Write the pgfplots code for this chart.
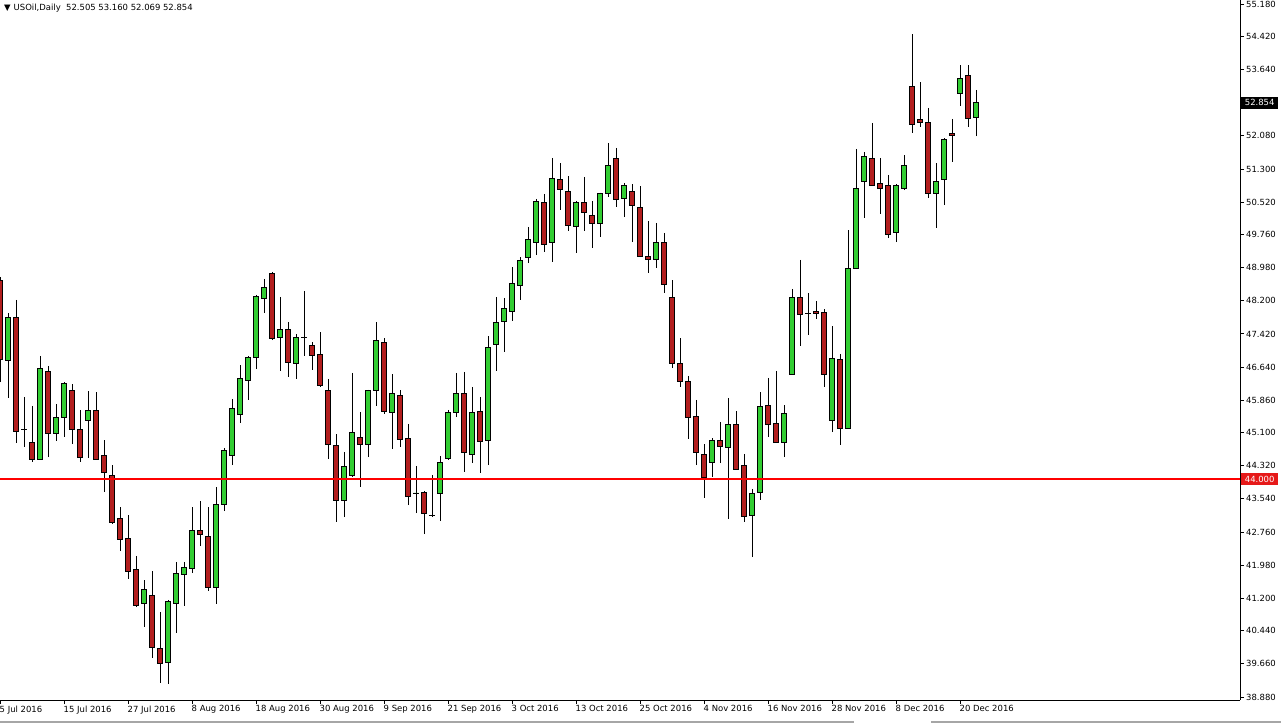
\documentclass[border=0pt]{standalone}
\usepackage{fontspec}
\setmainfont{DejaVu Sans}
\usepackage{pgfplots}
\pgfplotsset{compat=1.18}
\usepgfplotslibrary{statistics}
\definecolor{cgreen}{RGB}{50,205,50}
\definecolor{cred}{RGB}{178,30,30}
\definecolor{bred}{RGB}{230,25,25}
\newcommand{\candle}[5]{%
  \pgfmathsetmacro{\clo}{min(#2,#5)}%
  \pgfmathsetmacro{\chigh}{max(#2,#5)}%
  \pgfmathparse{(#5>=#2)?1:0}%
  \ifdim\pgfmathresult pt>0.5pt\def\ccol{cgreen}\else\def\ccol{cred}\fi
  \edef\candlecmd{\noexpand\addplot[candle, fill=\ccol, boxplot prepared={draw direction=y, draw position=#1, lower whisker=#4, lower quartile=\clo, median=\clo, upper quartile=\chigh, upper whisker=#3}] coordinates {};}%
  \candlecmd
}
\pgfplotsset{candle/.style={draw=black, line width=0.9bp, solid, mark=none}}
\begin{document}
\begin{tikzpicture}
\fill[white] (0,-24bp) rectangle (1281bp,700bp);
\path[use as bounding box] (0,-24bp) rectangle (1281bp,700bp);
\begin{axis}[
  at={(0,0)}, anchor=south west,
  width=1240bp, height=700bp, scale only axis,
  xmin=0, xmax=155, ymin=38.810, ymax=55.274,
  axis x line*=bottom, axis y line*=right,
  axis line style={black, line width=0.9bp, -},
  tick align=outside, major tick length=4bp,
  tick style={black, line width=0.9bp},
  xtick={0,8,...,120},
  xticklabels={5 Jul 2016, 15 Jul 2016, 27 Jul 2016, 8 Aug 2016, 18 Aug 2016, 30 Aug 2016, 9 Sep 2016, 21 Sep 2016, 3 Oct 2016, 13 Oct 2016, 25 Oct 2016, 4 Nov 2016, 16 Nov 2016, 28 Nov 2016, 8 Dec 2016, 20 Dec 2016},
  ytick={38.88,39.66,40.44,41.2,41.98,42.76,43.54,44.32,45.1,45.86,46.64,47.42,48.2,48.98,49.76,50.52,51.3,52.08,53.64,54.42,55.18},
  yticklabels={38.880,39.660,40.440,41.200,41.980,42.760,43.540,44.320,45.100,45.860,46.640,47.420,48.200,48.980,49.760,50.520,51.300,52.080,53.640,54.420,55.180},
  xticklabel style={anchor=north west, inner sep=0pt, xshift=-0.5bp, yshift=-1.5bp, font=\fontsize{8.5}{10}\selectfont},
  yticklabel style={anchor=west, inner sep=0pt, xshift=2bp, font=\fontsize{8.5}{10}\selectfont},
  clip mode=individual,
  boxplot/draw direction=y,
  boxplot/box extend=0.65, boxplot/whisker extend=0,
]
\candle{0}{48.688}{48.759}{46.289}{46.830}
\candle{1}{46.807}{47.912}{45.913}{47.818}
\candle{2}{47.818}{48.218}{44.855}{45.137}
\candle{3}{45.184}{45.937}{44.761}{45.180}
\candle{4}{44.878}{45.725}{44.408}{44.478}
\candle{5}{44.478}{46.901}{44.455}{46.619}
\candle{6}{46.548}{46.666}{44.525}{45.090}
\candle{7}{45.090}{45.772}{44.902}{45.466}
\candle{8}{45.466}{46.289}{44.996}{46.266}
\candle{9}{46.101}{46.242}{44.831}{45.184}
\candle{10}{45.184}{45.631}{44.408}{44.525}
\candle{11}{45.396}{46.077}{44.502}{45.631}
\candle{12}{45.631}{46.054}{44.470}{44.478}
\candle{13}{44.572}{44.925}{43.702}{44.173}
\candle{14}{44.102}{44.337}{42.950}{42.997}
\candle{15}{43.091}{43.349}{42.314}{42.597}
\candle{16}{42.620}{43.161}{41.656}{41.844}
\candle{17}{41.891}{42.197}{40.997}{41.044}
\candle{18}{41.091}{41.632}{40.527}{41.421}
\candle{19}{41.280}{41.844}{39.798}{40.057}
\candle{20}{40.034}{40.880}{39.210}{39.680}
\candle{21}{39.704}{41.162}{39.186}{41.138}
\candle{22}{41.091}{42.056}{40.386}{41.797}
\candle{23}{41.774}{42.056}{41.021}{41.938}
\candle{24}{41.915}{43.349}{41.797}{42.808}
\candle{25}{42.808}{43.490}{42.432}{42.714}
\candle{26}{42.667}{43.349}{41.374}{41.468}
\candle{27}{41.468}{43.820}{41.068}{43.420}
\candle{28}{43.420}{44.737}{43.255}{44.690}
\candle{29}{44.572}{45.890}{44.337}{45.678}
\candle{30}{45.537}{46.689}{45.325}{46.384}
\candle{31}{46.337}{46.901}{45.866}{46.878}
\candle{32}{46.878}{48.336}{46.595}{48.312}
\candle{33}{48.265}{48.712}{47.912}{48.524}
\candle{34}{48.853}{48.877}{47.277}{47.324}
\candle{35}{47.348}{48.289}{46.548}{47.536}
\candle{36}{47.536}{47.701}{46.407}{46.760}
\candle{37}{46.736}{47.418}{46.360}{47.348}
\candle{38}{47.348}{48.430}{46.901}{47.340}
\candle{39}{47.160}{47.230}{46.572}{46.925}
\candle{40}{46.948}{47.465}{46.172}{46.219}
\candle{41}{46.101}{46.360}{44.478}{44.831}
\candle{42}{44.808}{45.066}{42.997}{43.514}
\candle{43}{43.514}{44.643}{43.114}{44.314}
\candle{44}{44.102}{46.501}{44.055}{45.113}
\candle{45}{44.996}{45.584}{43.820}{44.831}
\candle{46}{44.831}{46.110}{44.525}{46.101}
\candle{47}{46.101}{47.701}{45.725}{47.277}
\candle{48}{47.230}{47.324}{45.537}{45.607}
\candle{49}{45.584}{46.477}{44.713}{46.030}
\candle{50}{45.984}{46.101}{44.761}{44.949}
\candle{51}{44.972}{45.302}{43.396}{43.608}
\candle{52}{43.679}{44.314}{43.208}{43.679}
\candle{53}{43.702}{43.726}{42.714}{43.208}
\candle{54}{43.161}{44.102}{43.114}{43.161}
\candle{55}{43.679}{44.549}{43.020}{44.408}
\candle{56}{44.502}{45.631}{44.455}{45.584}
\candle{57}{45.584}{46.501}{45.466}{46.030}
\candle{58}{46.030}{46.525}{44.173}{44.643}
\candle{59}{44.596}{46.172}{44.384}{45.584}
\candle{60}{45.607}{45.937}{44.149}{44.902}
\candle{61}{44.925}{47.371}{44.337}{47.113}
\candle{62}{47.183}{48.289}{46.548}{47.701}
\candle{63}{47.724}{48.265}{46.995}{48.030}
\candle{64}{47.959}{48.994}{47.724}{48.618}
\candle{65}{48.571}{49.229}{48.218}{49.159}
\candle{66}{49.229}{49.935}{49.088}{49.653}
\candle{67}{49.582}{50.594}{49.276}{50.547}
\candle{68}{50.523}{50.711}{49.347}{49.535}
\candle{69}{49.582}{51.558}{49.112}{51.087}
\candle{70}{51.064}{51.440}{50.335}{50.829}
\candle{71}{50.782}{51.134}{49.841}{49.982}
\candle{72}{49.958}{50.547}{49.324}{50.523}
\candle{73}{50.523}{51.111}{49.841}{50.288}
\candle{74}{50.217}{50.547}{49.441}{50.029}
\candle{75}{50.029}{50.745}{49.700}{50.735}
\candle{76}{50.735}{51.911}{50.641}{51.393}
\candle{77}{51.558}{51.793}{50.406}{50.594}
\candle{78}{50.617}{50.970}{50.170}{50.923}
\candle{79}{50.782}{50.946}{49.582}{50.452}
\candle{80}{50.406}{50.899}{49.229}{49.253}
\candle{81}{49.253}{50.076}{48.853}{49.182}
\candle{82}{49.182}{50.029}{48.971}{49.582}
\candle{83}{49.582}{49.794}{48.383}{48.594}
\candle{84}{48.289}{48.688}{46.619}{46.736}
\candle{85}{46.736}{47.324}{46.172}{46.313}
\candle{86}{46.313}{46.431}{44.949}{45.466}
\candle{87}{45.490}{45.866}{44.337}{44.643}
\candle{88}{44.596}{44.831}{43.561}{44.055}
\candle{89}{44.408}{44.972}{44.055}{44.925}
\candle{90}{44.925}{45.349}{44.384}{44.784}
\candle{91}{44.761}{45.913}{43.067}{45.302}
\candle{92}{45.302}{45.607}{44.220}{44.243}
\candle{93}{44.337}{44.596}{42.997}{43.138}
\candle{94}{43.161}{43.773}{42.173}{43.679}
\candle{95}{43.702}{46.054}{43.514}{45.725}
\candle{96}{45.748}{46.384}{44.996}{45.302}
\candle{97}{45.325}{46.548}{44.855}{44.878}
\candle{98}{44.878}{45.748}{44.525}{45.560}
\candle{99}{46.477}{48.477}{46.454}{48.289}
\candle{100}{48.289}{49.159}{47.136}{47.889}
\candle{101}{47.912}{48.383}{47.395}{47.912}
\candle{102}{47.959}{48.195}{47.771}{47.912}
\candle{103}{47.936}{48.006}{46.172}{46.477}
\candle{104}{45.396}{47.606}{45.113}{46.854}
\candle{105}{46.830}{46.948}{44.808}{45.208}
\candle{106}{45.208}{49.864}{45.190}{48.971}
\candle{107}{48.971}{51.770}{48.947}{50.852}
\candle{108}{51.017}{51.699}{50.147}{51.605}
\candle{109}{51.558}{52.381}{50.899}{50.923}
\candle{110}{50.970}{51.558}{50.241}{50.852}
\candle{111}{50.923}{51.158}{49.676}{49.770}
\candle{112}{49.817}{50.946}{49.582}{50.923}
\candle{113}{50.852}{51.628}{50.805}{51.393}
\candle{114}{53.251}{54.474}{52.146}{52.358}
\candle{115}{52.475}{53.345}{52.287}{52.405}
\candle{116}{52.405}{52.734}{50.617}{50.735}
\candle{117}{50.735}{51.440}{49.912}{51.017}
\candle{118}{51.064}{52.028}{50.452}{52.005}
\candle{119}{52.146}{52.475}{51.464}{52.099}
\candle{120}{53.087}{53.745}{52.781}{53.439}
\candle{121}{53.510}{53.745}{52.287}{52.499}
\candle{122}{52.505}{53.160}{52.069}{52.854}
\addplot[red, line width=2.2bp, mark=none] coordinates {(0,44) (155,44)};
\node[anchor=west, fill=black, text=white, inner sep=0pt, minimum width=37bp, minimum height=12bp, xshift=1bp, font=\fontsize{8.5}{10}\selectfont] at (axis cs:155,52.854) {52.854};
\node[anchor=west, fill=bred, text=white, inner sep=0pt, minimum width=37bp, minimum height=12bp, xshift=1bp, font=\fontsize{8.5}{10}\selectfont] at (axis cs:155,44) {44.000};
\end{axis}
\node[anchor=west, inner sep=0pt, font=\fontsize{8.5}{10}\selectfont] at (4bp,692bp) {▼\hspace{3bp}USOil,Daily\ \ 52.505 53.160 52.069 52.854};
\draw[gray!70, line width=1.2bp] (0,-22bp) -- (854bp,-22bp) (931bp,-22bp) -- (1281bp,-22bp);
\end{tikzpicture}
\end{document}
